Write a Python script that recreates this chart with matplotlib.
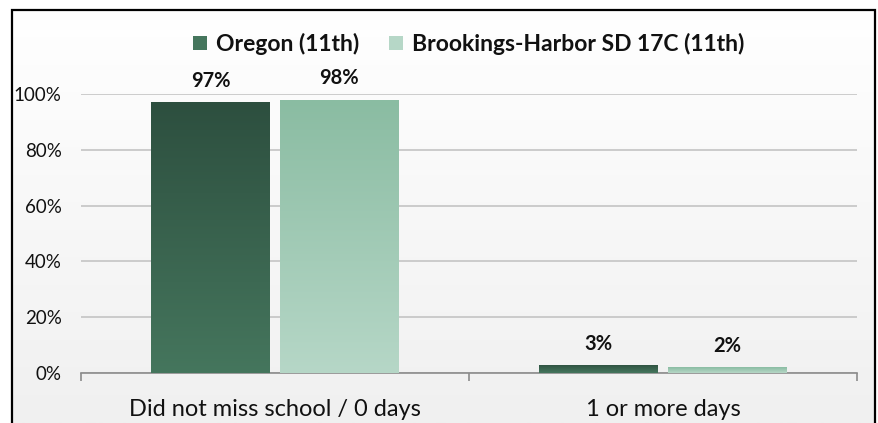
import numpy as np
import matplotlib.pyplot as plt
from matplotlib.patches import Rectangle
from matplotlib.colors import LinearSegmentedColormap

plt.rcParams['font.family'] = ['Lato', 'DejaVu Sans']

categories = ['Did not miss school / 0 days', '1 or more days']
series_names = ['Oregon (11th)', 'Brookings-Harbor SD 17C (11th)']
oregon = [0.97, 0.03]
brookings = [0.98, 0.02]
yticks = [0, 0.2, 0.4, 0.6, 0.8, 1.0]
ytick_labels = ['0%', '20%', '40%', '60%', '80%', '100%']

# top/bottom colours of the gradient fills
dark_cols = ('#2d4f3f', '#45765d')
light_cols = ('#8abca2', '#b6d7c7')

fig = plt.figure(figsize=(8.79, 4.23), dpi=100)
fig.patch.set_facecolor('white')

# chart area background (white -> light gray) and border
bg = fig.add_axes([12 / 879, 0, 863 / 879, 413 / 423], zorder=0)
grad = np.linspace(1, 0, 256).reshape(-1, 1)
bg_cmap = LinearSegmentedColormap.from_list('bg', ['#f0f0f0', '#ffffff'])
bg.imshow(grad, aspect='auto', cmap=bg_cmap, extent=[0, 1, 0, 1])
bg.set_axis_off()
fig.patches.append(Rectangle((12 / 879, -0.05), 863 / 879, 413 / 423 + 0.05,
                             transform=fig.transFigure, fill=False,
                             edgecolor='black', lw=1.6, zorder=5))

ax = fig.add_axes([81 / 879, 50 / 423, 776 / 879, 279 / 423], zorder=1)
ax.patch.set_alpha(0)

x = np.arange(len(categories))
w = 0.306
off = 0.166


def grad_bars(xs, vals, cols, label):
    bars = ax.bar(xs, vals, w, color=cols[1], label=label, zorder=3)
    cmap = LinearSegmentedColormap.from_list('g', [cols[1], cols[0]])
    g = np.linspace(0, 1, 256).reshape(-1, 1)
    for b in bars:
        x0, y0 = b.get_x(), b.get_y()
        im = ax.imshow(g, aspect='auto', cmap=cmap, origin='lower',
                       extent=[x0, x0 + b.get_width(), y0, y0 + b.get_height()],
                       zorder=3.5)
        im.set_clip_path(b)
    for xi, v in zip(xs, vals):
        ax.annotate('{:.0f}%'.format(v * 100), (xi, v), xytext=(0, 8),
                    textcoords='offset points', ha='center', va='bottom',
                    fontsize=14.5, fontweight='bold', color='#111111')
    return bars


grad_bars(x - off, oregon, dark_cols, series_names[0])
grad_bars(x + off, brookings, light_cols, series_names[1])

ax.set_xlim(-0.5, 1.5)
ax.set_ylim(0, 1.0)
ax.set_yticks(yticks)
ax.set_yticklabels(ytick_labels, fontsize=13.5, color='#111111')
ax.tick_params(axis='y', length=0, pad=14)
ax.yaxis.grid(True, color='#c4c4c4', lw=1.2, zorder=0)
ax.set_axisbelow(True)

ax.set_xticks([-0.5, 0.5, 1.5])
ax.set_xticklabels([])
ax.set_xticks(x, minor=True)
ax.set_xticklabels(categories, minor=True, fontsize=17, color='#111111')
ax.tick_params(axis='x', which='major', length=6, color='#8c8c8c', width=1.2)
ax.tick_params(axis='x', which='minor', length=0, pad=19)

for s in ['top', 'right', 'left']:
    ax.spines[s].set_visible(False)
ax.spines['bottom'].set_color('#8c8c8c')
ax.spines['bottom'].set_linewidth(1.2)

leg = ax.legend(loc='lower center', bbox_to_anchor=(0.5, 1.065), ncol=2,
                frameon=False, handlelength=0.6, handleheight=0.6,
                handletextpad=0.4, columnspacing=1.3,
                prop={'weight': 'bold', 'size': 16.5})
for t in leg.get_texts():
    t.set_color('#111111')

fig.savefig('out.png', dpi=100)
